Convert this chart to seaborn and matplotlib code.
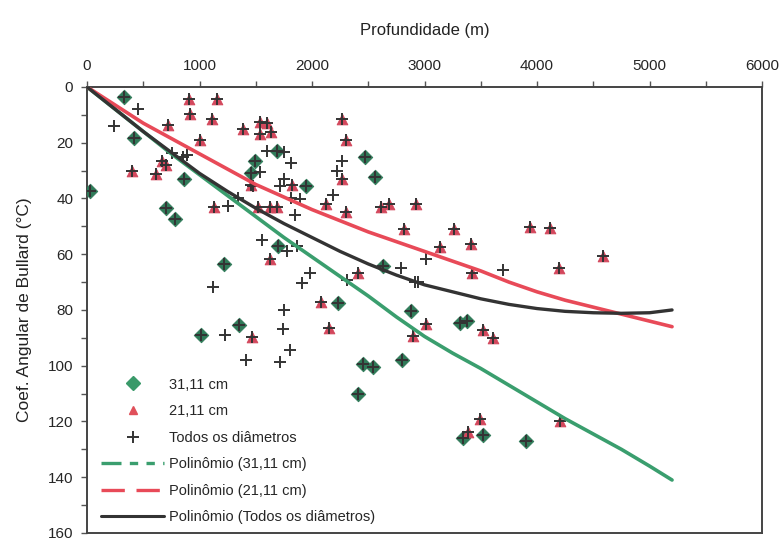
import matplotlib
matplotlib.use("Agg")
import matplotlib.pyplot as plt
import seaborn as sns
from matplotlib.lines import Line2D
from matplotlib.ticker import MultipleLocator

# Pontos 31,11 cm (profundidade em m, coef. angular em °C)
prof_31 = [30, 332, 415, 859, 705, 782, 1218, 1013, 1354, 1490, 1460, 1686,
           1947, 1701, 2234, 2471, 2560, 2634, 2450, 2545, 2797, 2880, 2412,
           3316, 3375, 3340, 3517, 3902]
coef_31 = [37.3, 3.5, 18.4, 33, 43.5, 47.5, 63.5, 88.9, 85.3, 26.5, 31, 22.8,
           35.5, 57, 77.5, 25, 32.4, 64.4, 99.3, 100.5, 98, 80.2, 110,
           84.7, 83.8, 126, 124.7, 127.1]

# Pontos 21,11 cm
prof_21 = [907, 1156, 918, 1108, 723, 1390, 1001, 397, 616, 664, 702, 1131,
           1455, 1538, 1597, 1632, 1538, 1822, 1523, 1627, 1686, 1627, 2267,
           2302, 2270, 2124, 2300, 2610, 2687, 2924, 2820, 3265, 3938, 4116,
           3138, 3413, 4196, 4584, 3419, 2412, 2077, 2154, 1464, 2901, 3013,
           3517, 3606, 3493, 3389, 4204]
coef_21 = [4.3, 4.3, 9.7, 11.5, 13.6, 15.2, 19.2, 30, 31.3, 26.5, 28, 42.9,
           35, 12.4, 12.8, 16.2, 17, 35, 43, 43, 43, 61.6, 11.5,
           19.1, 33, 42, 45, 43.1, 42, 42, 50.8, 50.8, 50.2, 50.6,
           57.5, 56.3, 64.8, 60.8, 66.8, 66.8, 77.3, 86.5, 89.6, 89.5, 85,
           87.1, 90.1, 119.1, 123.9, 120]

# Demais diâmetros (apenas na série "Todos os diâmetros")
prof_outros = [450, 240, 758, 853, 886, 1256, 1345, 1597, 1748, 1813, 1538,
               1751, 1716, 1479, 1810, 1893, 1849, 1553, 1775, 1864, 1982,
               2270, 2219, 2190, 3013, 3701, 2791, 1117, 1227, 1413, 1908,
               2308, 1754, 1745, 1804, 1716, 2916, 2945]
coef_outros = [7.9, 13.9, 23.8, 25, 24.4, 42.7, 40, 22.8, 23.2, 27.4, 30.4,
               33, 35.5, 35.7, 40, 40.3, 46, 55, 58.7, 57, 66.7,
               26.5, 30, 38.7, 61.6, 65.6, 65, 71.6, 88.9, 97.8, 70.4,
               69.2, 79.9, 86.8, 94.3, 98.7, 69.8, 69.8]

prof_todos = prof_31 + prof_21 + prof_outros
coef_todos = coef_31 + coef_21 + coef_outros

# Linhas de tendência
prof_curva = [0, 250, 500, 750, 1000, 1250, 1500, 1750, 2000, 2250, 2500, 2750,
              3000, 3250, 3500, 3750, 4000, 4250, 4500, 4750, 5000, 5200]
curva_31 = [0, 8, 16, 24, 31.5, 39, 46.5, 54, 61, 68, 75, 82.5,
            89.5, 95.5, 101, 107, 113, 119, 124.5, 130, 136, 141]
curva_21 = [0, 6.5, 13, 18.5, 24, 29.5, 35, 39.5, 44, 48, 52, 55.5,
            59, 62.5, 66, 70, 73.5, 76.5, 79, 81.5, 84, 86]
curva_todos = [0, 8, 16, 23.5, 31, 37.5, 43.5, 49, 54, 59, 63.5, 67.5,
               71, 73.5, 76, 78, 79.5, 80.5, 81, 81.2, 81, 80]

verde = "#2f7a58"
verde_linha = "#3a9e6e"
vermelho = "#d3475c"
vermelho_linha = "#e84a58"
preto = "#333333"

sns.set_style("ticks")
plt.rcParams["font.family"] = ["Liberation Sans", "DejaVu Sans"]

fig, ax = plt.subplots(figsize=(7.84, 5.4), dpi=100)
fig.subplots_adjust(left=0.111, right=0.972, top=0.839, bottom=0.013)

sns.scatterplot(x=prof_31, y=coef_31, marker="D", s=55, color=verde,
                edgecolor=verde, ax=ax, zorder=3)
sns.scatterplot(x=prof_21, y=coef_21, marker="^", s=60, color=vermelho,
                edgecolor=vermelho, ax=ax, zorder=3)
sns.scatterplot(x=prof_todos, y=coef_todos, marker="+", s=75, color=preto,
                linewidth=1.4, ax=ax, zorder=4)

sns.lineplot(x=prof_curva, y=curva_31, color=verde_linha, lw=2.6, ax=ax, zorder=5)
sns.lineplot(x=prof_curva, y=curva_21, color=vermelho_linha, lw=2.6, ax=ax, zorder=5)
sns.lineplot(x=prof_curva, y=curva_todos, color=preto, lw=2.4, ax=ax, zorder=5)

ax.set_xlim(0, 6000)
ax.set_ylim(160, 0)
ax.xaxis.tick_top()
ax.xaxis.set_label_position("top")
ax.xaxis.set_major_locator(MultipleLocator(1000))
ax.xaxis.set_minor_locator(MultipleLocator(500))
ax.yaxis.set_major_locator(MultipleLocator(20))
ax.yaxis.set_minor_locator(MultipleLocator(10))
ax.tick_params(which="both", direction="out", length=4, width=1, color="#555555",
               labelsize=11, pad=6)
ax.set_xlabel("Profundidade (m)", fontsize=12, labelpad=17, color="#222222")
ax.set_ylabel("Coef. Angular de Bullard (°C)", fontsize=12.5, labelpad=11, color="#222222")
for s in ax.spines.values():
    s.set_visible(True)
    s.set_color("#444444")
    s.set_linewidth(1.4)

handles = [
    Line2D([], [], ls="none", marker="D", ms=7, color="#3a9a6a"),
    Line2D([], [], ls="none", marker="^", ms=6, color="#e0505a"),
    Line2D([], [], ls="none", marker="+", ms=8, mew=1.4, color=preto),
    Line2D([], [], color=verde_linha, lw=2.4, dashes=(6, 2.5, 2.5, 2.5, 2.5, 2.5)),
    Line2D([], [], color=vermelho_linha, lw=2.4, dashes=(7, 3.5)),
    Line2D([], [], color=preto, lw=2.2),
]
labels = ["31,11 cm", "21,11 cm", "Todos os diâmetros", "Polinômio (31,11 cm)",
          "Polinômio (21,11 cm)", "Polinômio (Todos os diâmetros)"]
ax.legend(handles, labels, loc="lower left", bbox_to_anchor=(0.008, 0.0),
          frameon=False, fontsize=10.5, handlelength=4.3, handletextpad=0.35,
          labelspacing=0.86, borderpad=0.4, borderaxespad=0.2)

fig.savefig("out.png", dpi=100)
